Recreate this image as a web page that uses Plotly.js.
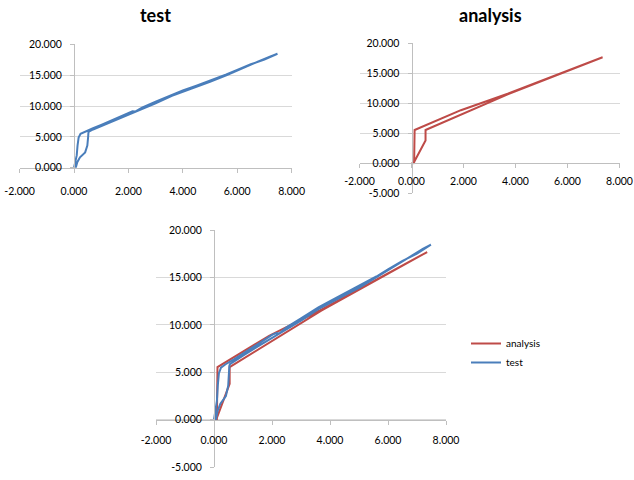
<!DOCTYPE html>
<html>
<head>
<meta charset="utf-8">
<script src="https://cdn.plot.ly/plotly-3.0.1.min.js"></script>
<style>html,body{margin:0;padding:0;background:#fff;}#chart{width:634px;height:480px;}</style>
</head>
<body>
<div id="chart"></div>
<script>
// ---------- data ----------
const seriesNames = ["analysis", "test"];
const panelTitles = ["test", "analysis"];

const xTickVals = [-2, 0, 2, 4, 6, 8];
const xTickText = ["-2.000", "0.000", "2.000", "4.000", "6.000", "8.000"];
const yTickValsTop = [0, 5, 10, 15, 20];
const yTickTextTop = ["0.000", "5.000", "10.000", "15.000", "20.000"];
const yTickVals = [-5, 0, 5, 10, 15, 20];
const yTickText = ["-5.000", "0.000", "5.000", "10.000", "15.000", "20.000"];

// analysis (red)
const analysisX = [0, 0.10, 0.12, 1.90, 3.70, 5.80, 7.35, 3.70, 2.14, 0.54, 0.54, 0.08, 0];
const analysisY = [0, 0.05, 5.55, 8.85, 11.60, 15.05, 17.68, 11.50, 8.55, 5.55, 3.80, 0.05, 0];

// test (blue)
const testX = [0, 0.04, 0.10, 0.13, 0.17, 0.24, 0.40, 0.70, 1.00, 1.50, 2.00, 2.15, 2.25, 2.50, 3.00, 3.60, 4.00, 4.50, 5.00, 5.60, 6.00, 6.50, 7.00, 7.48,
               7.20, 6.80, 6.50, 6.00, 5.60, 5.00, 4.50, 4.00, 3.60, 3.00, 2.50, 2.00, 1.50, 1.00, 0.70, 0.55, 0.53, 0.52, 0.49, 0.41, 0.30, 0.22, 0.12, 0.07, 0.02, 0];
const testY = [0, 0.90, 2.00, 3.60, 4.90, 5.50, 5.85, 6.40, 6.95, 7.95, 8.95, 9.15, 9.10, 9.75, 10.70, 11.85, 12.50, 13.30, 14.10, 15.10, 15.85, 16.75, 17.50, 18.45,
               18.00, 17.25, 16.65, 15.75, 14.95, 13.90, 13.10, 12.30, 11.65, 10.45, 9.55, 8.65, 7.70, 6.75, 6.20, 5.85, 5.70, 5.00, 3.60, 2.50, 2.05, 1.70, 0.90, 0.10, 0.02, 0];

// ---------- layout helpers ----------
const W = 634, H = 480;
const FONT = "Lato, 'Liberation Sans', Arial, sans-serif";
const BLUE = "#4A7EBB", RED = "#BE4B48";
const GRID = "#D9D9D9", AXIS = "#BFBFBF";
const TICKSIZE = 10.5;

// panel frames in pixels: left/right of x range [-2,8], top/bottom of y range
const frames = [
  {xl: 19.6, xr: 291.6, yt: 44.2, yb: 167.8, yr: [0, 20], tv: yTickValsTop, tt: yTickTextTop, xso: 10},
  {xl: 359.5, xr: 619.5, yt: 43.3, yb: 193.3, yr: [-5, 20], tv: yTickVals, tt: yTickText, xso: 4},
  {xl: 156, xr: 446, yt: 230, yb: 467.2, yr: [-5, 20], tv: yTickVals, tt: yTickText, xso: 7}
];

const layout = {
  width: W, height: H,
  margin: {l: 0, r: 0, t: 0, b: 0},
  paper_bgcolor: "#fff", plot_bgcolor: "rgba(0,0,0,0)",
  font: {family: FONT, size: 11, color: "#000"},
  showlegend: true,
  legend: {x: 466 / W, xanchor: "left", y: 1 - 329 / H, yanchor: "top",
           font: {family: FONT, size: 10, color: "#000"}, bgcolor: "rgba(0,0,0,0)", borderwidth: 0},
  annotations: []
};

frames.forEach((f, i) => {
  const sfx = i === 0 ? "" : String(i + 1);
  const xd = [f.xl / W, f.xr / W];
  const yd = [1 - f.yb / H, 1 - f.yt / H];
  const xr = [-2, 8];
  const yPos = xd[0] + (0 - xr[0]) / (xr[1] - xr[0]) * (xd[1] - xd[0]);
  const xPos = yd[0] + (0 - f.yr[0]) / (f.yr[1] - f.yr[0]) * (yd[1] - yd[0]);
  layout["xaxis" + sfx] = {
    domain: xd, range: xr, anchor: "free", position: xPos,
    tickmode: "array", tickvals: xTickVals, ticktext: xTickText,
    showgrid: false, zeroline: false, showline: true, linecolor: AXIS, linewidth: 1,
    ticks: "outside", ticklen: 4, tickcolor: AXIS, ticklabelstandoff: f.xso,
    ticklabeloverflow: "allow",
    tickfont: {family: FONT, size: TICKSIZE, color: "#000"}, fixedrange: true
  };
  layout["yaxis" + sfx] = {
    domain: yd, range: f.yr, anchor: "free", position: yPos,
    tickmode: "array", tickvals: f.tv, ticktext: f.tt,
    showgrid: true, gridcolor: GRID, gridwidth: 1, zeroline: false,
    showline: true, linecolor: AXIS, linewidth: 1,
    ticks: "outside", ticklen: 4, tickcolor: AXIS, ticklabelstandoff: 6,
    ticklabeloverflow: "allow",
    tickfont: {family: FONT, size: TICKSIZE, color: "#000"}, fixedrange: true
  };
});

layout.annotations.push(
  {text: "<b>" + panelTitles[0] + "</b>", xref: "paper", yref: "paper", x: 155 / W, y: 1 - 15 / H,
   xanchor: "center", yanchor: "middle", showarrow: false, font: {family: FONT, size: 18, color: "#000"}},
  {text: "<b>" + panelTitles[1] + "</b>", xref: "paper", yref: "paper", x: 490 / W, y: 1 - 15 / H,
   xanchor: "center", yanchor: "middle", showarrow: false, font: {family: FONT, size: 18, color: "#000"}}
);

const lineStyle = c => ({color: c, width: 2});
const data = [
  {x: testX, y: testY, xaxis: "x", yaxis: "y", mode: "lines", line: lineStyle(BLUE), showlegend: false, name: seriesNames[1]},
  {x: analysisX, y: analysisY, xaxis: "x2", yaxis: "y2", mode: "lines", line: lineStyle(RED), showlegend: false, name: seriesNames[0]},
  {x: analysisX, y: analysisY, xaxis: "x3", yaxis: "y3", mode: "lines", line: lineStyle(RED), name: seriesNames[0]},
  {x: testX, y: testY, xaxis: "x3", yaxis: "y3", mode: "lines", line: lineStyle(BLUE), name: seriesNames[1]}
];

Plotly.newPlot("chart", data, layout, {staticPlot: true, displayModeBar: false});
</script>
</body>
</html>
